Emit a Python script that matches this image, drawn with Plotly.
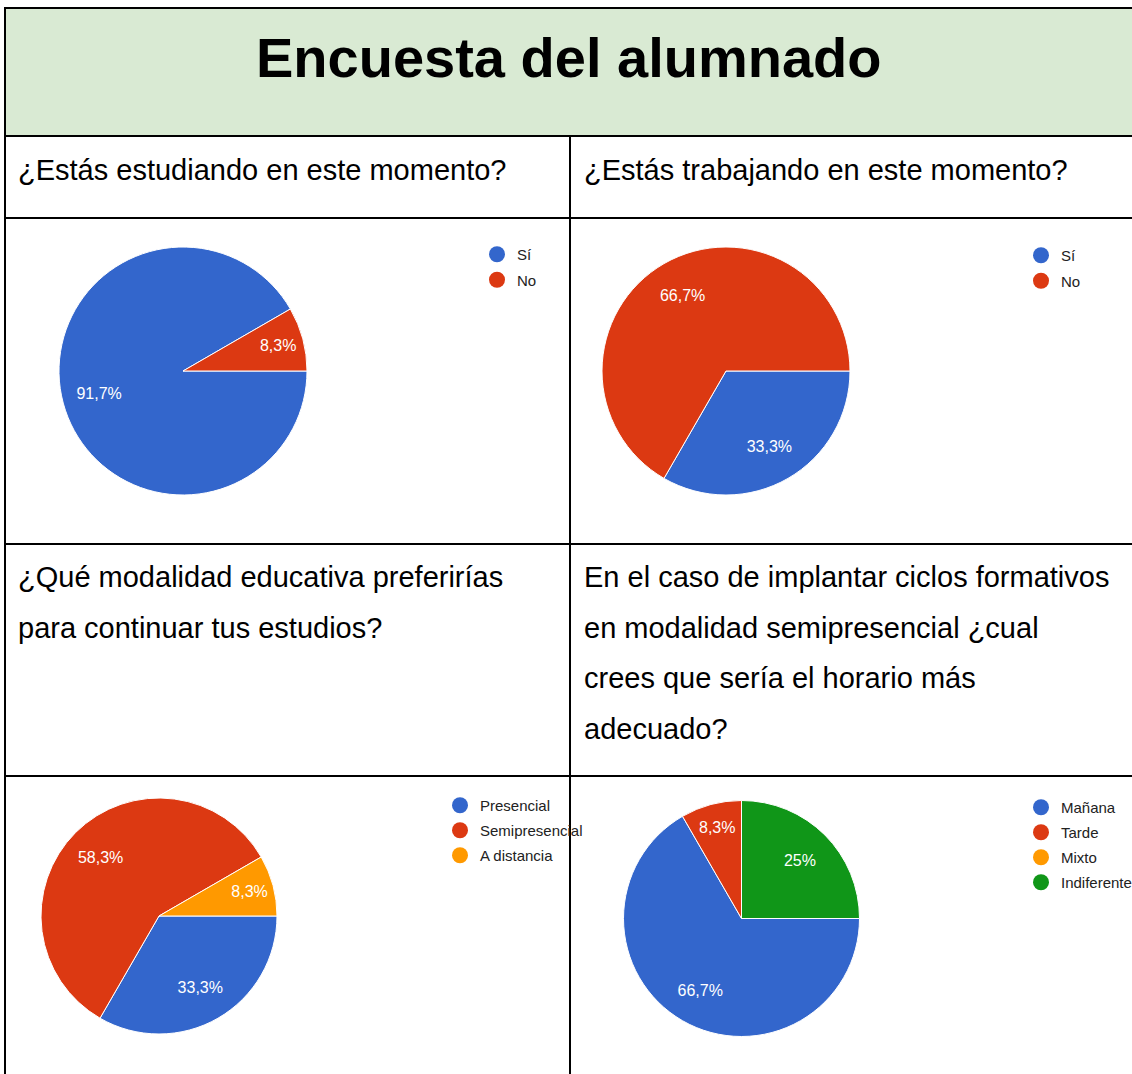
import plotly.graph_objects as go

W, H = 1132, 1074

# ---- data ----
title_text = "Encuesta del alumnado"

q1_title = ["¿Estás estudiando en este momento?"]
q1_labels = ["Sí", "No"]
q1_values = [11, 1]

q2_title = ["¿Estás trabajando en este momento?"]
q2_labels = ["Sí", "No"]
q2_values = [4, 8]

q3_title = ["¿Qué modalidad educativa preferirías", "para continuar tus estudios?"]
q3_labels = ["Presencial", "Semipresencial", "A distancia"]
q3_values = [4, 7, 1]

q4_title = ["En el caso de implantar ciclos formativos",
            "en modalidad semipresencial ¿cual",
            "crees que sería el horario más",
            "adecuado?"]
q4_labels = ["Mañana", "Tarde", "Mixto", "Indiferente"]
q4_values = [8, 1, 0, 3]

palette = ["#3366CC", "#DC3912", "#FF9900", "#109618"]

FONT = "Liberation Sans, Arial, sans-serif"


def X(px):
    return px / W


def Y(py):
    return 1 - py / H


fig = go.Figure()

# pies: (labels, values, center px, radius px, legend id, legend pos)
pies = [
    (q1_labels, q1_values, (183, 371), 124, "legend", (477, 238)),
    (q2_labels, q2_values, (726, 371), 124, "legend2", (1021, 239)),
    (q3_labels, q3_values, (159, 916), 118, "legend3", (440, 789)),
    (q4_labels, q4_values, (741.5, 918.5), 118, "legend4", (1021, 791)),
]

legend_layouts = {}
for i, (labels, values, (cx, cy), r, lg, (lx, ly)) in enumerate(pies):
    dom = dict(x=[X(cx - r), X(cx + r)], y=[Y(cy + r), Y(cy - r)])
    # visible slices
    fig.add_trace(go.Pie(
        labels=labels, values=values, sort=False,
        direction="clockwise", rotation=90,
        marker=dict(colors=palette[:len(labels)], line=dict(color="white", width=1)),
        domain=dom, textinfo="none",
        showlegend=False, hoverinfo="label+percent",
    ))
    # transparent overlay carrying the percentage labels (ring puts them at ~0.7 r)
    fig.add_trace(go.Pie(
        labels=labels, values=values, sort=False,
        direction="clockwise", rotation=90, hole=0.4,
        marker=dict(colors=["rgba(0,0,0,0)"] * len(labels), line=dict(width=0)),
        domain=dom,
        texttemplate=["%{percent:.1~%}" if v > 0 else "" for v in values],
        textposition="inside", insidetextorientation="horizontal",
        textfont=dict(family=FONT, size=16, color="white"),
        showlegend=False, hoverinfo="skip",
    ))
    for j, lab in enumerate(labels):
        fig.add_trace(go.Scatter(
            x=[None], y=[None], mode="markers", name=lab,
            marker=dict(color=palette[j], size=16, symbol="circle"),
            legend=lg, legendgroup=f"{lg}-{j}", showlegend=True, hoverinfo="skip",
        ))
    legend_layouts[lg] = dict(
        x=X(lx), y=Y(ly), xanchor="left", yanchor="top",
        font=dict(family=FONT, size=15, color="#222222"),
        bgcolor="rgba(0,0,0,0)", borderwidth=0, itemclick=False,
        itemdoubleclick=False, traceorder="grouped",
        tracegroupgap=3 if i < 2 else 2.5,
    )

# ---- table cells / borders ----
LINE = dict(color="black", width=2)
shapes = [
    dict(type="rect", xref="paper", yref="paper", x0=X(5), x1=X(1140),
         y0=Y(136), y1=Y(8), fillcolor="#d9ead3", line=LINE, layer="below"),
]
for py in [136, 218, 544, 776]:
    shapes.append(dict(type="line", xref="paper", yref="paper",
                       x0=X(5), x1=X(1140), y0=Y(py), y1=Y(py), line=LINE))
shapes.append(dict(type="line", xref="paper", yref="paper",
                   x0=X(5), x1=X(5), y0=Y(8), y1=Y(1080), line=LINE))
shapes.append(dict(type="line", xref="paper", yref="paper",
                   x0=X(570), x1=X(570), y0=Y(136), y1=Y(1080), line=LINE))

annotations = [
    dict(text=f"<b>{title_text}</b>", xref="paper", yref="paper",
         x=X(569), y=Y(57), xanchor="center", yanchor="middle", showarrow=False,
         font=dict(family=FONT, size=56, color="black")),
]


def add_header(lines, x0, y0):
    for k, t in enumerate(lines):
        annotations.append(dict(
            text=t, xref="paper", yref="paper", x=X(x0), y=Y(y0 + k * 50.7),
            xanchor="left", yanchor="middle", showarrow=False,
            font=dict(family=FONT, size=29, color="black")))


add_header(q1_title, 16, 170)
add_header(q2_title, 582, 170)
add_header(q3_title, 16, 577)
add_header(q4_title, 582, 577)

fig.update_layout(
    width=W, height=H,
    margin=dict(l=0, r=0, t=0, b=0, autoexpand=False),
    paper_bgcolor="white", plot_bgcolor="rgba(0,0,0,0)",
    separators=",.",
    uniformtext=dict(minsize=16, mode="show"),
    xaxis=dict(visible=False), yaxis=dict(visible=False),
    shapes=shapes, annotations=annotations,
    **legend_layouts,
)

fig.write_html("out.html",
               config={"displayModeBar": False},
               post_script="document.body.style.margin='0';document.body.style.overflow='hidden';")
